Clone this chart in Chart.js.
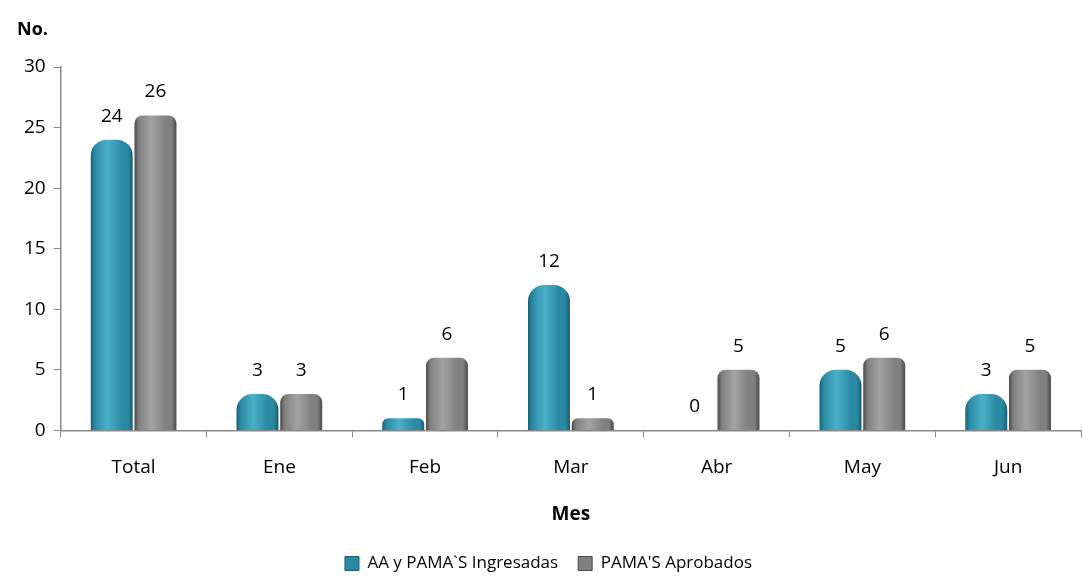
<!DOCTYPE html>
<html>
<head>
<meta charset="utf-8">
<script src="https://cdn.jsdelivr.net/npm/chart.js@4"></script>
<style>
  html, body { margin: 0; padding: 0; background: #fff; }
  #wrap { width: 1083px; height: 582px; }
</style>
</head>
<body>
<div id="wrap"><canvas id="chMes"></canvas></div>
<script>
// data
var meses = [ 'Total', 'Ene', 'Feb', 'Mar', 'Abr', 'May', 'Jun' ];
var ingresadas = [ 24, 3, 1, 12, 0, 5, 3 ];
var aprobados = [ 26, 3, 6, 1, 5, 6, 5 ];
var yTicks = [ 0, 5, 10, 15, 20, 25, 30 ];

// bar colours: light, middle, dark
var tonos = [
	[ '#4bb0c9', '#2b8aa3', '#1a5f72' ],
	[ '#a3a3a3', '#808080', '#4a4a4a' ]
];

var fontFam = "'Open Sans', 'Liberation Sans', sans-serif";

// horizontal gradient on each bar to fake the cylinder look
var cylinder = {
	id: 'cylinder',
	beforeDatasetsDraw: function (chart) {
		var c = chart.ctx;
		chart.data.datasets.forEach(function (ds, i) {
			var t = tonos[i];
			chart.getDatasetMeta(i).data.forEach(function (bar) {
				var w = bar.width;
				var g = c.createLinearGradient(bar.x - w / 2, 0, bar.x + w / 2, 0);
				g.addColorStop(0, t[2]);
				g.addColorStop(0.1, t[1]);
				g.addColorStop(0.4, t[0]);
				g.addColorStop(0.75, t[1]);
				g.addColorStop(0.88, t[1]);
				g.addColorStop(1, t[2]);
				// options are shared between bars, so give each one its own copy
				var o = Object.assign({}, bar.options);
				o.backgroundColor = g;
				bar.options = o;
			});
		});
	}
};

// value labels above the bars
var valueLabels = {
	id: 'valueLabels',
	afterDatasetsDraw: function (chart) {
		var c = chart.ctx;
		c.save();
		c.font = '19px ' + fontFam;
		c.fillStyle = '#000';
		c.textAlign = 'center';
		c.textBaseline = 'bottom';
		chart.data.datasets.forEach(function (ds, i) {
			chart.getDatasetMeta(i).data.forEach(function (bar, j) {
				c.fillText(ds.data[j], bar.x, bar.y - 14);
			});
		});
		c.restore();
	}
};

// "No." title above the y axis
var yTitle = {
	id: 'yTitle',
	afterDraw: function (chart) {
		var c = chart.ctx;
		c.save();
		c.font = 'bold 18px ' + fontFam;
		c.fillStyle = '#000';
		c.textAlign = 'left';
		c.textBaseline = 'middle';
		c.fillText('No.', 17, 30);
		c.restore();
	}
};

var chMes = document.getElementById('chMes');
new Chart(chMes, {
	type: 'bar',
	data: {
		labels: meses,
		datasets: [
			{
				label: 'AA y PAMA`S Ingresadas',
				data: ingresadas,
				backgroundColor: tonos[0][1],
				borderRadius: { topLeft: 16, topRight: 16 },
				borderSkipped: false,
				categoryPercentage: 0.6,
				barPercentage: 0.96
			},
			{
				label: "PAMA'S Aprobados",
				data: aprobados,
				backgroundColor: tonos[1][1],
				borderRadius: { topLeft: 8, topRight: 8 },
				borderSkipped: false,
				categoryPercentage: 0.6,
				barPercentage: 0.96
			}
		]
	},
	options: {
		responsive: true,
		maintainAspectRatio: false,
		animation: false,
		layout: { padding: { top: 67, right: 2, left: 16 } },
		plugins: {
			legend: {
				position: 'bottom',
				labels: {
					boxWidth: 14,
					boxHeight: 14,
					padding: 20,
					color: '#000',
					font: { size: 17, family: fontFam },
					generateLabels: function (chart) {
						return chart.data.datasets.map(function (ds, i) {
							return {
								text: ds.label,
								fillStyle: tonos[i][1],
								strokeStyle: tonos[i][2],
								lineWidth: 1,
								datasetIndex: i
							};
						});
					}
				}
			},
			tooltip: { enabled: false }
		},
		scales: {
			x: {
				grid: { drawOnChartArea: false, drawTicks: true, tickLength: 7, color: '#888' },
				border: { color: '#888', width: 1.5 },
				ticks: { color: '#000', font: { size: 19, family: fontFam }, padding: 19 },
				title: {
					display: true,
					text: 'Mes',
					color: '#000',
					font: { size: 19, weight: 'bold', family: fontFam },
					padding: { top: 5, bottom: 9 }
				}
			},
			y: {
				min: 0,
				max: 30,
				afterBuildTicks: function (axis) {
					axis.ticks = yTicks.map(function (v) { return { value: v }; });
				},
				grid: { drawOnChartArea: false, drawTicks: true, tickLength: 7, color: '#888' },
				border: { color: '#888', width: 1.5 },
				ticks: { color: '#000', font: { size: 19, family: fontFam }, padding: 8 }
			}
		}
	},
	plugins: [ cylinder, valueLabels, yTitle ]
});
</script>
</body>
</html>
